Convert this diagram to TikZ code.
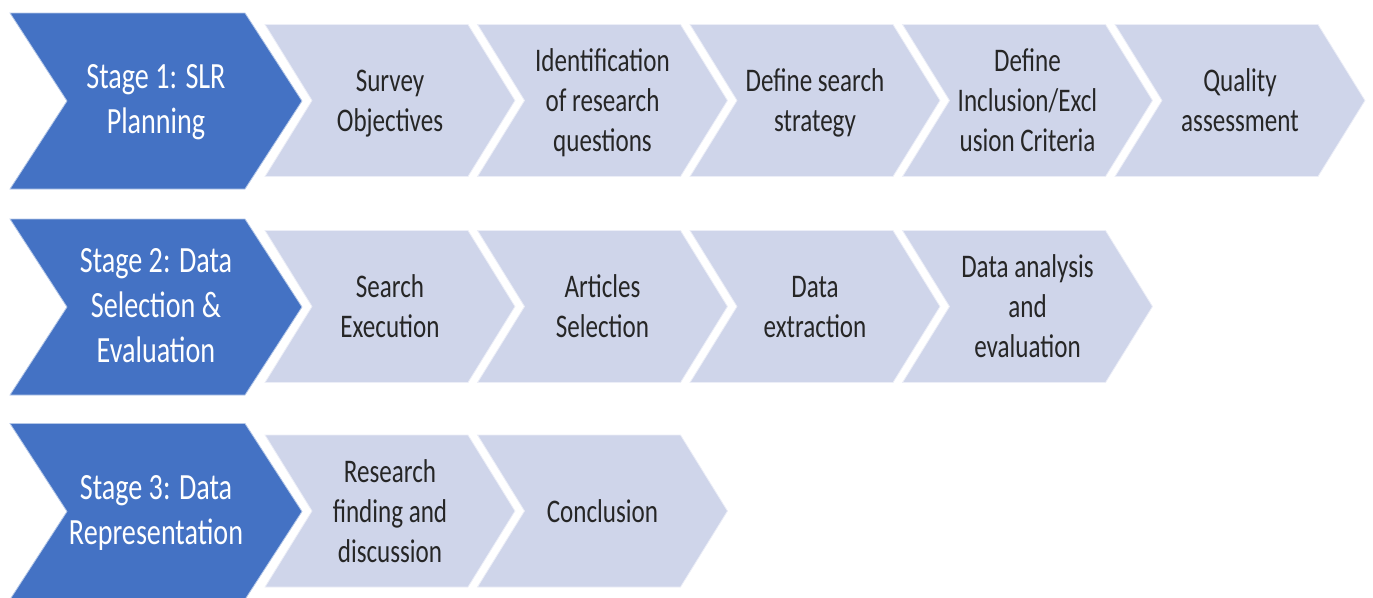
\documentclass[tikz,border=0pt]{standalone}
\usepackage{fontspec}
\usepackage{graphicx}
\setmainfont{Carlito}
\definecolor{stageblue}{HTML}{4472C4}
\definecolor{stepgray}{HTML}{CFD5EA}
\definecolor{steptext}{HTML}{262626}
\newcommand{\sqtext}[1]{\scalebox{0.76}[1]{\begin{tabular}{@{}c@{}}#1\end{tabular}}}
\tikzset{
  graychev/.style={fill=stepgray, draw=white!60!stepgray, line width=0.8pt},
  bluechev/.style={fill=stageblue, draw=white!60!stageblue, line width=0.8pt},
  graytext/.style={inner sep=0pt, text=steptext, font=\fontsize{33}{40}\selectfont},
  bluetext/.style={inner sep=0pt, text=white, font=\fontsize{37}{45}\selectfont},
}
% name, x0, ymid, text
\newcommand{\gchev}[4]{%
  \path[graychev] (#2,#3-76) -- ++(203,0) -- ++(47,76) -- ++(-47,76) -- ++(-203,0) -- ++(47,-76) -- cycle;
  \node[graytext] (#1) at (#2+125,#3+3) {\sqtext{#4}};
}
\newcommand{\bchev}[4]{%
  \path[bluechev] (#2,#3-88) -- ++(235,0) -- ++(57,88) -- ++(-57,88) -- ++(-235,0) -- ++(57,-88) -- cycle;
  \node[bluetext] (#1) at (#2+146,#3+1) {\sqtext{#4}};
}
\begin{document}
\begin{tikzpicture}[x=1pt,y=-1pt]
\useasboundingbox (0,0) rectangle (1373,597);
% Row 1
\bchev{s1}{10}{101}{Stage 1: SLR\\Planning}
\gchev{a1}{265}{100.5}{Survey\\Objectives}
\gchev{a2}{477.5}{100.5}{Identification\\of research\\questions}
\gchev{a3}{690}{100.5}{Define search\\strategy}
\gchev{a4}{902.5}{100.5}{Define\\Inclusion/Excl\\usion Criteria}
\gchev{a5}{1115}{100.5}{Quality\\assessment}
% Row 2
\bchev{s2}{10}{307}{Stage 2: Data\\Selection \&\\Evaluation}
\gchev{b1}{265}{306.5}{Search\\Execution}
\gchev{b2}{477.5}{306.5}{Articles\\Selection}
\gchev{b3}{690}{306.5}{Data\\extraction}
\gchev{b4}{902.5}{306.5}{Data analysis\\and\\evaluation}
% Row 3
\bchev{s3}{10}{511.5}{Stage 3: Data\\Representation}
\gchev{c1}{265}{511}{Research\\finding and\\discussion}
\gchev{c2}{477.5}{511}{Conclusion}
\end{tikzpicture}
\end{document}
